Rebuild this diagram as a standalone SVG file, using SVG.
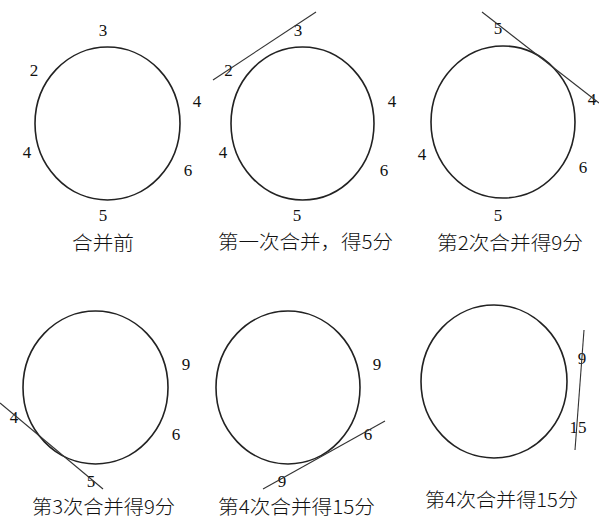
<svg xmlns="http://www.w3.org/2000/svg" width="599" height="532" viewBox="0 0 599 532">
<style>
.c{fill:none;stroke:#222;stroke-width:1.6}
.l{stroke:#333;stroke-width:1.1}
.n{font-family:"Liberation Serif","DejaVu Serif",serif;font-size:17px;fill:#111;text-anchor:middle}
.t{font-family:"Noto Sans CJK SC","Noto Sans CJK JP",sans-serif;font-size:19px;font-weight:300;fill:#111;text-anchor:middle}
</style>
<rect width="599" height="532" fill="#fff"/>
<g id="stage0">
<ellipse class="c" cx="107.5" cy="123.5" rx="72.5" ry="76.5"/>
<text class="n" x="103" y="36">3</text>
<text class="n" x="34" y="76">2</text>
<text class="n" x="197" y="107">4</text>
<text class="n" x="27" y="158">4</text>
<text class="n" x="188" y="176">6</text>
<text class="n" x="103" y="221">5</text>
<text class="t" x="103" y="250" textLength="62" lengthAdjust="spacingAndGlyphs">合并前</text>
</g>
<g id="stage1">
<ellipse class="c" cx="302.5" cy="123.5" rx="71.5" ry="76.5"/>
<text class="n" x="298" y="36">3</text>
<text class="n" x="228.5" y="76">2</text>
<text class="n" x="392" y="107">4</text>
<text class="n" x="223" y="158">4</text>
<text class="n" x="384" y="176">6</text>
<text class="n" x="297" y="221">5</text>
<text class="t" x="305.5" y="249" textLength="175" lengthAdjust="spacingAndGlyphs">第一次合并，得5分</text>
</g>
<g id="stage2">
<ellipse class="c" cx="503" cy="122" rx="72" ry="76"/>
<text class="n" x="498" y="34">5</text>
<text class="n" x="592" y="105">4</text>
<text class="n" x="422" y="160">4</text>
<text class="n" x="583" y="173">6</text>
<text class="n" x="498" y="221">5</text>
<text class="t" x="510" y="250" textLength="146" lengthAdjust="spacingAndGlyphs">第2次合并得9分</text>
</g>
<g id="stage3">
<ellipse class="c" cx="95.5" cy="387.5" rx="72.5" ry="76.5"/>
<text class="n" x="186" y="370">9</text>
<text class="n" x="176" y="440">6</text>
<text class="n" x="14" y="423">4</text>
<text class="n" x="91" y="487">5</text>
<text class="t" x="103.5" y="514" textLength="143" lengthAdjust="spacingAndGlyphs">第3次合并得9分</text>
</g>
<g id="stage4">
<ellipse class="c" cx="288" cy="387.5" rx="72" ry="76.5"/>
<text class="n" x="377" y="370">9</text>
<text class="n" x="368" y="440">6</text>
<text class="n" x="282" y="487">9</text>
<text class="t" x="296.5" y="514" textLength="157" lengthAdjust="spacingAndGlyphs">第4次合并得15分</text>
</g>
<g id="stage5">
<ellipse class="c" cx="494" cy="381.5" rx="73" ry="76.5"/>
<text class="n" x="582" y="364">9</text>
<text class="n" x="578" y="433">15</text>
<text class="t" x="501.5" y="507" textLength="153" lengthAdjust="spacingAndGlyphs">第4次合并得15分</text>
</g>
<g id="connectors">
<line class="l" x1="213" y1="80" x2="316" y2="12"/>
<line class="l" x1="482" y1="12" x2="599" y2="103"/>
<line class="l" x1="0" y1="403" x2="103" y2="489"/>
<line class="l" x1="263" y1="489" x2="385" y2="421"/>
<line class="l" x1="584" y1="330" x2="575" y2="450"/>
</g>
</svg>
